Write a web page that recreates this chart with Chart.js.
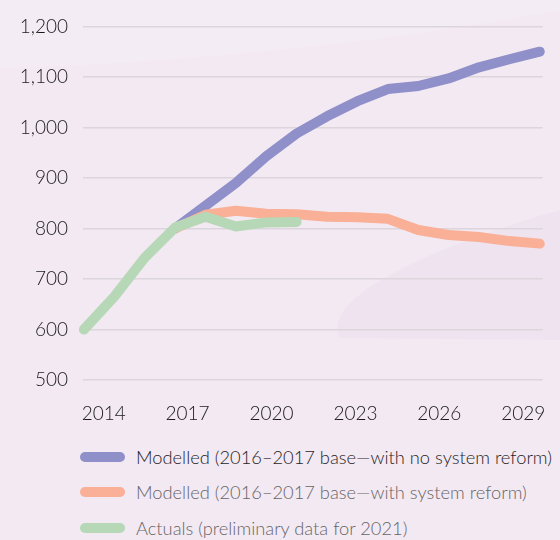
<!DOCTYPE html>
<html>
<head>
<meta charset="utf-8">
<script src="https://cdn.jsdelivr.net/npm/chart.js@4/dist/chart.umd.min.js"></script>
<style>
  html, body { margin: 0; padding: 0; background: #f3e9f3; }
  #wrap { position: relative; width: 560px; height: 540px; overflow: hidden; }
  canvas { position: absolute; left: 0; top: 0; }
  .legend-row { position: absolute; left: 80px; height: 20px; display: flex; align-items: center;
    font-family: Lato, sans-serif; font-weight: 300; font-size: 18.3px; white-space: nowrap; }
  .swatch { width: 45px; height: 10px; border-radius: 5px; margin-right: 11px; }
</style>
</head>
<body>
<div id="wrap">
  <canvas id="chart" width="560" height="420"></canvas>
  <div id="legend"></div>
</div>
<script>
// data
const years = [2014, 2015, 2016, 2017, 2018, 2019, 2020, 2021, 2022, 2023, 2024, 2025, 2026, 2027, 2028, 2029];
const noReform = [null, null, null, 800, 845, 890, 943, 988, 1022, 1052, 1076, 1082, 1097, 1119, 1135, 1150];
const withReform = [null, null, null, 800, 827, 835, 829, 828, 823, 822, 819, 797, 787, 783, 775, 770];
const actuals = [600, 665, 742, 802, 823, 804, 812, 813, null, null, null, null, null, null, null, null];
const tickYears = [2014, 2017, 2020, 2023, 2026, 2029];
const yTicks = [500, 600, 700, 800, 900, 1000, 1100, 1200];

const seriesNames = [
    'Modelled (2016\u20132017 base\u2014with no system reform)',
    'Modelled (2016\u20132017 base\u2014with system reform)',
    'Actuals (preliminary data for 2021)'
];
const seriesColors = ['#8f8fc9', '#f9b096', '#b7d8b7'];
const legendTextColors = ['#1e1e1e', '#666666', '#666666'];

const toPoints = (arr) => years.map((yr, i) => ({ x: yr, y: arr[i] }));

// fundo com as formas suaves
const bgPlugin = {
    id: 'bg',
    beforeDraw(chart) {
        const ctx = chart.ctx;
        ctx.save();
        ctx.fillStyle = '#f3e9f3';
        ctx.fillRect(0, 0, chart.width, chart.height);
        // faixa clara no topo
        ctx.fillStyle = '#f4ecf4';
        ctx.beginPath();
        ctx.moveTo(0, 0);
        ctx.lineTo(0, 68);
        ctx.bezierCurveTo(200, 62, 400, 40, 560, 10);
        ctx.lineTo(560, 0);
        ctx.closePath();
        ctx.fill();
        // elipse mais escura embaixo a direita
        ctx.fillStyle = '#efe3ef';
        ctx.beginPath();
        ctx.moveTo(340, 338);
        ctx.bezierCurveTo(320, 300, 420, 250, 560, 210);
        ctx.lineTo(560, 340);
        ctx.closePath();
        ctx.fill();
        ctx.restore();
    }
};

const datasets = [
    { label: seriesNames[0], data: toPoints(noReform), borderColor: seriesColors[0], order: 2 },
    { label: seriesNames[1], data: toPoints(withReform), borderColor: seriesColors[1], order: 1 },
    { label: seriesNames[2], data: toPoints(actuals), borderColor: seriesColors[2], order: 0 }
].map(ds => Object.assign(ds, {
    borderWidth: 10,
    borderCapStyle: 'round',
    borderJoinStyle: 'round',
    pointRadius: 0,
    tension: 0,
    fill: false,
    clip: false,
    xAxisID: 'x',
    yAxisID: 'y'
}));

const tickFont = { family: 'Lato', size: 19, weight: 300 };

new Chart(document.getElementById('chart'), {
    type: 'line',
    data: { datasets },
    options: {
        responsive: false,
        animation: false,
        layout: { padding: { top: 25, right: 5, left: 0, bottom: 0 } },
        plugins: { legend: { display: false }, tooltip: { enabled: false } },
        scales: {
            x: {
                type: 'linear',
                display: false,
                min: 2013.97,
                max: 2029.1
            },
            xLabels: {
                type: 'linear',
                position: 'bottom',
                min: 2013.26,
                max: 2029.7,
                afterBuildTicks: (scale) => { scale.ticks = tickYears.map(v => ({ value: v })); },
                afterFit: (scale) => { scale.height = 40; },
                grid: { display: false },
                border: { display: false },
                ticks: {
                    padding: 14,
                    maxRotation: 0,
                    autoSkip: false,
                    color: '#1a1a1a',
                    font: tickFont,
                    callback: (v) => String(v)
                }
            },
            y: {
                min: 500,
                max: 1200,
                afterBuildTicks: (scale) => { scale.ticks = yTicks.map(v => ({ value: v })); },
                afterFit: (scale) => { scale.width = 83; },
                border: { display: false },
                grid: { color: '#dcd6dc', lineWidth: 1.5, drawTicks: false },
                ticks: {
                    padding: 15,
                    color: '#1a1a1a',
                    font: tickFont,
                    callback: (v) => v.toLocaleString('en-US')
                }
            }
        }
    },
    plugins: [bgPlugin]
});

// legenda em HTML
const legendTops = [447, 482, 518];
document.getElementById('legend').innerHTML = seriesNames.map((name, i) =>
    `<div class="legend-row" style="top:${legendTops[i]}px;color:${legendTextColors[i]}">
        <span class="swatch" style="background:${seriesColors[i]}"></span>${name}
    </div>`
).join('');
</script>
</body>
</html>
